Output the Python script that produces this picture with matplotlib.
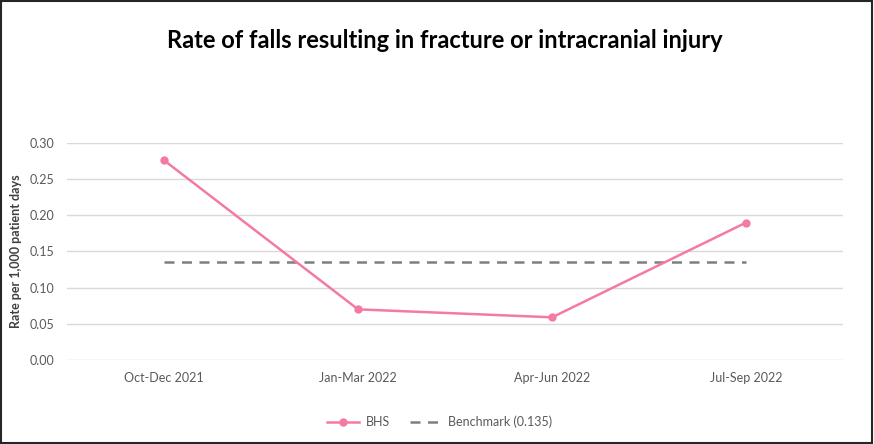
import matplotlib.pyplot as plt
from matplotlib.patches import Rectangle

plt.rcParams['font.family'] = ['Lato', 'DejaVu Sans']

quarters = ['Oct-Dec 2021', 'Jan-Mar 2022', 'Apr-Jun 2022', 'Jul-Sep 2022']
bhs_rate = [0.276, 0.070, 0.059, 0.190]
benchmark = [0.135, 0.135, 0.135, 0.135]
y_ticks = [0.00, 0.05, 0.10, 0.15, 0.20, 0.25, 0.30]

fig = plt.figure(figsize=(8.74, 4.44), dpi=100)
ax = fig.add_axes([0.0767, 0.1892, 0.888, 0.4888])

x = list(range(len(quarters)))
ax.plot(x, bhs_rate, color='#F47AA6', linewidth=1.8, marker='o', markersize=5, label='BHS', zorder=3)
ax.plot(x, benchmark, color='#7F7F7F', linewidth=1.8, linestyle=(0, (4, 3)), label='Benchmark (0.135)', zorder=2)

ax.set_xlim(-0.5, 3.5)
ax.set_ylim(0, 0.30)
ax.set_yticks(y_ticks)
ax.set_yticklabels([f'{v:.2f}' for v in y_ticks])
ax.set_xticks(x)
ax.set_xticklabels(quarters)
ax.yaxis.grid(True, color='#D9D9D9', linewidth=1)
ax.set_axisbelow(True)
for s in ax.spines.values():
    s.set_visible(False)
ax.tick_params(axis='both', length=0, colors='#595959', labelsize=9)
ax.tick_params(axis='y', pad=9)
ax.tick_params(axis='x', pad=9)
ax.set_ylabel('Rate per 1,000 patient days', fontsize=9, fontweight='bold', color='#404040')
ax.yaxis.set_label_coords(-0.058, 0.5)

fig.suptitle('Rate of falls resulting in fracture or intracranial injury', x=0.509, y=0.935,
             fontsize=17, fontweight='bold', color='black')

fig.legend(loc='center', bbox_to_anchor=(0.503, 0.05), ncol=2, frameon=False,
           fontsize=9, labelcolor='#595959', handlelength=2.6, handletextpad=0.5,
           columnspacing=1.6)

fig.patches.append(Rectangle((0.001, 0.002), 0.997, 0.995, transform=fig.transFigure,
                             fill=False, edgecolor='#262626', linewidth=1.5))

fig.savefig('out.png', dpi=100)
